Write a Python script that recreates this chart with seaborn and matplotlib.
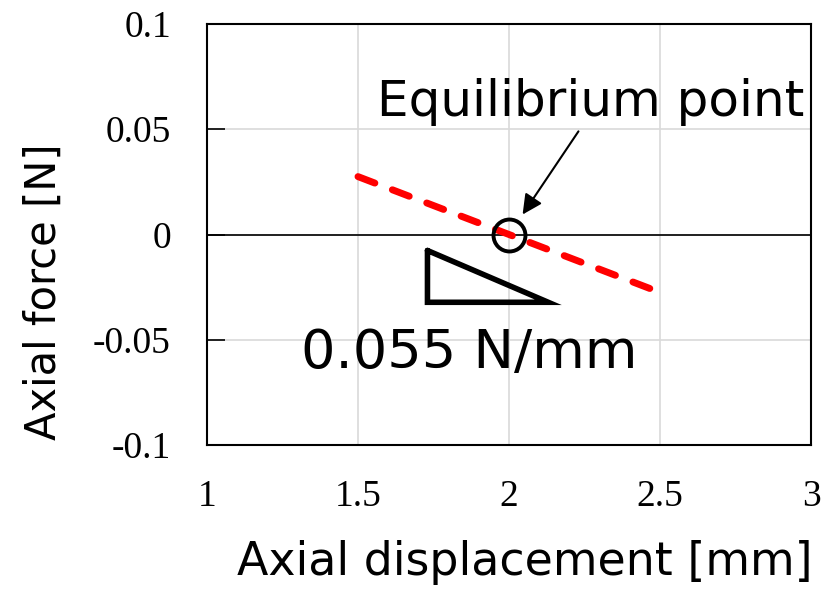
import matplotlib
matplotlib.use("Agg")
import matplotlib.pyplot as plt
import seaborn as sns
import pandas as pd

# Data
displacement = [1.5, 2.0, 2.5]
force = [0.0275, 0.0, -0.0275]
eq_x = [2.0]
eq_y = [0.0]
tri_x = [1.73, 1.73, 2.13, 1.73]
tri_y = [-0.0076, -0.0322, -0.0322, -0.0076]
x_ticks = [1, 1.5, 2, 2.5, 3]
y_ticks = [-0.1, -0.05, 0, 0.05, 0.1]
y_tick_labels = ["-0.1", "-0.05", "0", "0.05", "0.1"]
x_tick_labels = ["1", "1.5", "2", "2.5", "3"]

sns.set_theme(style="white")
plt.rcParams['font.family'] = ['DejaVu Sans']
plt.rcParams['text.color'] = 'black'
plt.rcParams['axes.labelcolor'] = 'black'
plt.rcParams['xtick.color'] = 'black'
plt.rcParams['ytick.color'] = 'black'

fig = plt.figure(figsize=(8.39, 5.91), dpi=100)
ax = fig.add_axes([207/839, 1 - 445/591, (811-207)/839, (445-24)/591])

df = pd.DataFrame({"x": displacement, "y": force})
sns.lineplot(data=df, x="x", y="y", ax=ax, color="red", lw=5,
             linestyle=(0, (2.6, 2.7)), dash_capstyle="round", zorder=3)

ax.axhline(0, color="black", lw=1.2, zorder=2)
ax.plot(eq_x, eq_y, marker="o", ms=23, mfc="none", mec="black", mew=2.8, ls="none", zorder=4)
ax.plot(tri_x, tri_y, color="black", lw=4, solid_joinstyle="miter", zorder=3)

ax.text(2.27, 0.0628, "Equilibrium point", ha="center", va="center", fontsize=36)
ax.annotate("", xy=(2.045, 0.0095), xytext=(2.23, 0.049),
            arrowprops=dict(arrowstyle="-|>", color="black", lw=1.5,
                            mutation_scale=30, shrinkA=0, shrinkB=0))
ax.text(1.869, -0.0564, "0.055 N/mm", ha="center", va="center", fontsize=39)

ax.set_xlim(1, 3)
ax.set_ylim(-0.1, 0.1)
ax.set_xticks(x_ticks)
ax.set_xticklabels(x_tick_labels, family="Liberation Serif", fontsize=27)
ax.set_yticks(y_ticks)
ax.set_yticklabels(y_tick_labels, family="Liberation Serif", fontsize=27)
ax.tick_params(axis="y", direction="in", length=13, width=1.2, pad=26, left=True)
ax.tick_params(axis="x", length=0, pad=25)
ax.grid(True, color="#d9d9d9", lw=1.2)
for s in ax.spines.values():
    s.set_visible(True)
    s.set_color("black")
    s.set_linewidth(1.5)

ax.set_xlabel("Axial displacement [mm]", fontsize=33)
ax.xaxis.set_label_coords(0.526, -0.226)
ax.set_ylabel("Axial force [N]", fontsize=30)
ax.yaxis.set_label_coords(-0.235, 0.363)

fig.savefig("out.png", dpi=100)
